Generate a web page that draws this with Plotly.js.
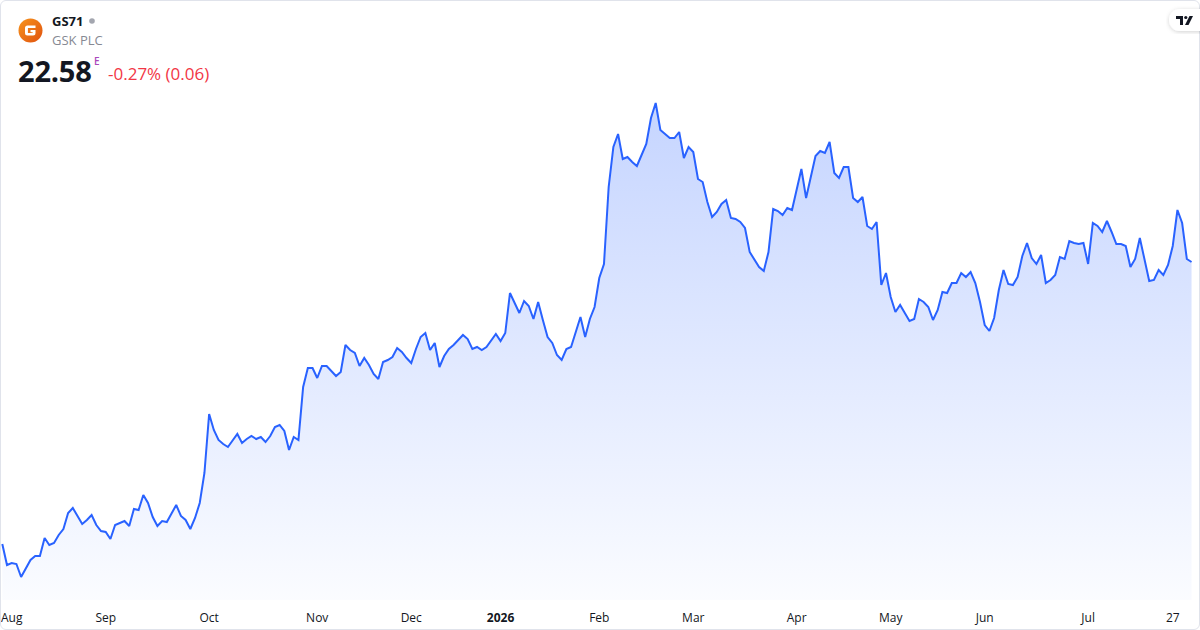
<!DOCTYPE html>
<html>
<head>
<meta charset="utf-8">
<script src="https://cdn.plot.ly/plotly-3.0.1.min.js"></script>
<style>
  html, body { margin: 0; padding: 0; background: #ffffff; }
  #wrap { position: relative; width: 1200px; height: 630px; overflow: hidden; font-family: "Open Sans", "Liberation Sans", sans-serif; }
  #chart { position: absolute; left: 0; top: 0; width: 1200px; height: 630px; }
  #frame { position: absolute; left: 0; top: 0; width: 1200px; height: 630px; box-sizing: border-box; border: 1px solid #e0e3eb; border-radius: 6px; pointer-events: none; }
  .t { position: absolute; white-space: nowrap; }
</style>
</head>
<body>
<div id="wrap">
  <div id="chart"></div>
  <div id="frame"></div>
  <svg class="t" style="left:18px;top:18px" width="25" height="25" viewBox="0 0 25 25">
    <defs>
      <linearGradient id="lg" x1="0" y1="0" x2="1" y2="1">
        <stop offset="0" stop-color="#f7941d"/>
        <stop offset="1" stop-color="#e0520f"/>
      </linearGradient>
    </defs>
    <circle cx="12.5" cy="12.5" r="12" fill="url(#lg)"/>
    <path d="M17.5 7.5 H9.5 Q7 7.5 7 10 V15 Q7 17.5 9.5 17.5 H15 Q17.5 17.5 17.5 15 V12 H12.5 V14.3 H14.6 V15 H9.9 V10 H17.5 Z" fill="#ffffff"/>
  </svg>
  <div class="t" style="left:52px;top:11px;font-size:13px;line-height:20px;font-weight:700;color:#131722;">GS71</div>
  <svg class="t" style="left:88px;top:17px" width="8" height="8"><circle cx="4" cy="4" r="2.8" fill="#a3a6af"/></svg>
  <div class="t" style="left:52px;top:30px;font-size:13px;line-height:20px;color:#868993;">GSK PLC</div>
  <div class="t" style="left:18px;top:52px;font-size:29px;line-height:38px;font-weight:700;color:#131722;letter-spacing:-0.2px;">22.58</div>
  <div class="t" style="left:94px;top:55px;font-size:10px;line-height:12px;font-weight:600;color:#ab47bc;">E</div>
  <div class="t" style="left:108px;top:62px;font-size:17px;line-height:24px;color:#f23645;">-0.27% (0.06)</div>
  <svg class="t" style="left:1166px;top:6px" width="40" height="28" viewBox="0 0 40 28">
    <defs>
      <filter id="sh" x="-50%" y="-50%" width="200%" height="200%">
        <feDropShadow dx="0" dy="1" stdDeviation="2" flood-color="#000" flood-opacity="0.18"/>
      </filter>
    </defs>
    <rect x="3" y="3" width="46" height="22" rx="11" fill="#ffffff" filter="url(#sh)"/>
    <path d="M10 10 H17 V19 H14 V13 H10 Z" fill="#131722"/>
    <circle cx="19.8" cy="11.5" r="1.6" fill="#131722"/>
    <path d="M23.5 10 H27 L22.5 19 H19 Z" fill="#131722"/>
  </svg>
</div>
<script>
// Daily closing prices (trading days)
const prices = [
  16.94,16.52,16.56,16.54,16.28,16.46,16.62,16.70,16.70,17.06,
  16.92,16.96,17.12,17.24,17.56,17.66,17.50,17.34,17.42,17.52,
  17.32,17.20,17.18,17.04,17.32,17.36,17.40,17.30,17.64,17.62,
  17.92,17.76,17.48,17.30,17.40,17.38,17.56,17.72,17.50,17.42,
  17.24,17.46,17.76,18.36,19.54,19.22,19.02,18.94,18.88,19.02,
  19.14,18.96,19.04,19.10,19.04,19.08,18.98,19.10,19.28,19.32,
  19.20,18.82,19.08,19.02,20.08,20.46,20.46,20.26,20.50,20.50,
  20.40,20.30,20.38,20.92,20.82,20.76,20.50,20.66,20.52,20.34,
  20.24,20.58,20.62,20.68,20.86,20.78,20.66,20.56,20.84,21.08,
  21.16,20.82,20.96,20.48,20.70,20.84,20.92,21.02,21.12,21.04,
  20.84,20.88,20.82,20.88,21.00,21.14,21.00,21.16,21.96,21.76,
  21.56,21.80,21.70,21.44,21.78,21.42,21.08,20.96,20.72,20.62,
  20.84,20.88,21.18,21.48,21.08,21.44,21.68,22.26,22.54,24.08,
  24.88,25.14,24.64,24.68,24.58,24.50,24.72,24.94,25.46,25.76,
  25.22,25.14,25.06,25.06,25.18,24.66,24.88,24.78,24.24,24.18,
  23.78,23.48,23.58,23.74,23.82,23.46,23.44,23.38,23.26,22.78,
  22.62,22.48,22.40,22.78,23.64,23.60,23.52,23.66,23.62,24.06,
  24.44,23.86,24.30,24.70,24.80,24.76,24.98,24.36,24.26,24.48,
  24.48,23.86,23.78,23.88,23.30,23.24,23.38,22.12,22.36,21.88,
  21.58,21.72,21.56,21.40,21.44,21.84,21.78,21.68,21.42,21.62,
  21.98,21.96,22.16,22.16,22.36,22.28,22.38,22.16,21.78,21.32,
  21.20,21.46,22.02,22.42,22.14,22.12,22.28,22.70,22.96,22.66,
  22.54,22.72,22.16,22.22,22.32,22.68,22.64,23.00,22.96,22.94,
  22.96,22.54,23.36,23.30,23.18,23.40,23.18,22.94,22.94,22.90,
  22.48,22.64,23.06,22.62,22.20,22.22,22.42,22.32,22.52,22.90,
  23.62,23.36,22.64,22.58
];

// Month tick positions (trading-day index) and labels
const tickIdx    = [2, 22, 44, 67, 87, 106, 127, 147, 169, 189, 209, 231, 249];
const tickLabels = ["Aug", "Sep", "Oct", "Nov", "Dec", "<b>2026</b>", "Feb", "Mar", "Apr", "May", "Jun", "Jul", "27"];

const xs = prices.map((_, i) => i);

const trace = {
  x: xs,
  y: prices,
  type: "scatter",
  mode: "lines",
  line: { color: "#2962ff", width: 2 },
  fill: "tozeroy",
  fillgradient: {
    type: "vertical",
    start: 15.82,
    stop: 25.8,
    colorscale: [[0, "rgba(41,98,255,0.02)"], [1, "rgba(41,98,255,0.27)"]]
  },
  hoverinfo: "skip"
};

const layout = {
  width: 1200,
  height: 630,
  margin: { l: 0, r: 0, t: 0, b: 30, pad: 0 },
  paper_bgcolor: "rgba(0,0,0,0)",
  plot_bgcolor: "rgba(0,0,0,0)",
  showlegend: false,
  xaxis: {
    range: [-0.49, 254.8],
    tickmode: "array",
    tickvals: tickIdx,
    ticktext: tickLabels,
    showgrid: false,
    zeroline: false,
    showline: false,
    ticks: "",
    ticklabelstandoff: 9,
    tickfont: { family: "Open Sans, sans-serif", size: 12, color: "#131722" },
    fixedrange: true
  },
  yaxis: {
    range: [15.82, 27.82],
    visible: false,
    fixedrange: true
  }
};

Plotly.newPlot("chart", [trace], layout, { staticPlot: true, displayModeBar: false });
</script>
</body>
</html>
